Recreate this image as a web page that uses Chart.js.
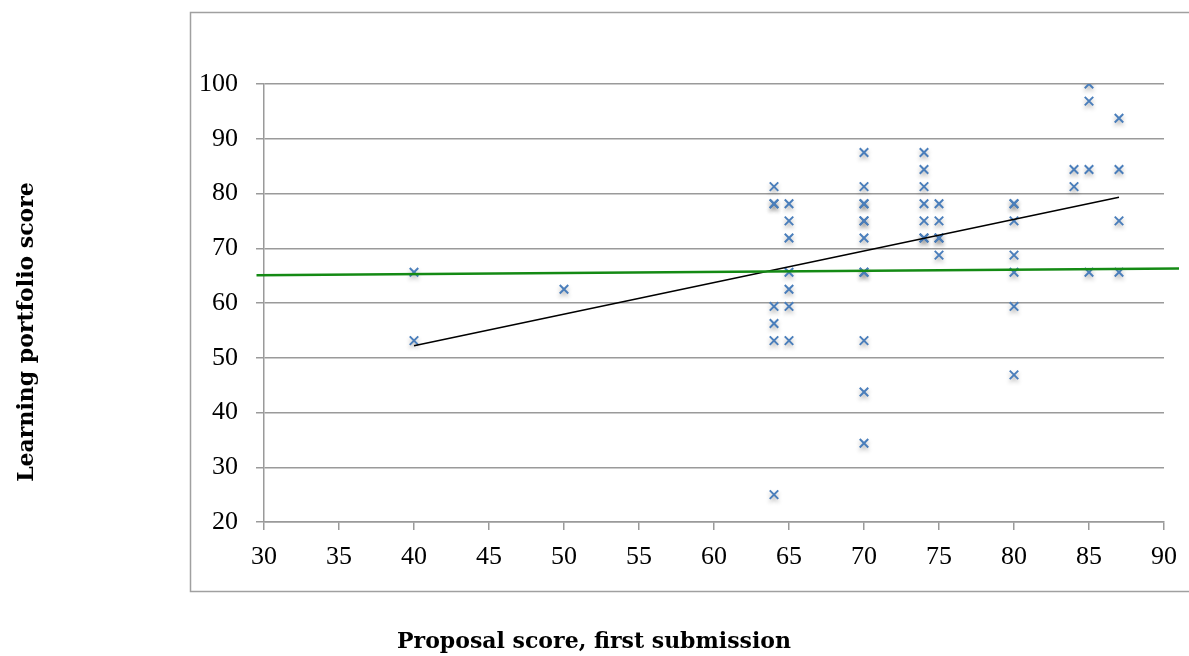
<!DOCTYPE html>
<html>
<head>
<meta charset="utf-8">
<title>Learning portfolio vs proposal score</title>
<script src="https://cdn.jsdelivr.net/npm/chart.js@4.4.1/dist/chart.umd.min.js"></script>
<style>
    html, body { margin: 0; padding: 0; background: #ffffff; }
    #wrap { position: relative; width: 1189px; height: 656px; }
</style>
</head>
<body>
<div id="wrap">
    <canvas id="scoreChart" width="1189" height="656"></canvas>
</div>
<script>
// Proposal score (first submission) for each student
const proposalScores = [
    40, 40,
    50,
    64, 64, 64, 64, 64, 64, 64,
    65, 65, 65, 65, 65, 65, 65,
    70, 70, 70, 70, 70, 70, 70, 70, 70, 70, 70, 70,
    74, 74, 74, 74, 74, 74, 74,
    75, 75, 75, 75, 75,
    80, 80, 80, 80, 80, 80, 80,
    84, 84,
    85, 85, 85, 85,
    87, 87, 87, 87
];

// Learning portfolio score, same order
const portfolioScores = [
    65.625, 53.125,
    62.5,
    81.25, 78.125, 78.125, 59.375, 56.25, 53.125, 25,
    78.125, 75, 71.875, 65.625, 62.5, 59.375, 53.125,
    87.5, 81.25, 78.125, 78.125, 75, 75, 71.875, 65.625, 65.625, 53.125, 43.75, 34.375,
    87.5, 84.375, 81.25, 78.125, 75, 71.875, 71.875,
    78.125, 75, 71.875, 71.875, 68.75,
    78.125, 78.125, 75, 68.75, 65.625, 59.375, 46.875,
    84.375, 81.25,
    100, 96.875, 84.375, 65.625,
    93.75, 84.375, 75, 65.625
];

// Linear trendline end points (black)
const trendX = [40, 87];
const trendY = [52.2, 79.3];

// Reference line drawn across the chart (green)
const refX = [29.5, 91.0];
const refY = [65.05, 66.3];

// Axis ticks
const xTicks = [30, 35, 40, 45, 50, 55, 60, 65, 70, 75, 80, 85, 90];
const yTicks = [20, 30, 40, 50, 60, 70, 80, 90, 100];

const xTitle = 'Proposal score, first submission';
const yTitle = 'Learning portfolio score';

const gridGray = '#9a9a9a';
const markBlue = '#4a7ebb';

document.addEventListener('DOMContentLoaded', () => {
    initScoreChart();
});

/**
 * Outer frame + axis titles (drawn straight on the canvas)
 */
const framePlugin = {
    id: 'frame',
    beforeDraw(chart) {
        const ctx = chart.ctx;
        ctx.save();
        ctx.strokeStyle = '#a0a0a0';
        ctx.lineWidth = 1.5;
        ctx.strokeRect(190.5, 12.5, 1010, 579);
        ctx.restore();
    },
    afterDraw(chart) {
        const ctx = chart.ctx;
        ctx.save();
        ctx.fillStyle = '#000000';
        ctx.font = 'bold 22px "DejaVu Serif"';
        ctx.textAlign = 'center';
        ctx.textBaseline = 'alphabetic';
        ctx.fillText(xTitle, 594, 648);

        ctx.translate(33, 332);
        ctx.rotate(-Math.PI / 2);
        ctx.fillText(yTitle, 0, 0);
        ctx.restore();
    }
};

/**
 * Soft drop shadow under the scatter marks
 */
const shadowPlugin = {
    id: 'markShadow',
    beforeDatasetDraw(chart, args) {
        if (args.meta.type !== 'scatter') return;
        const ctx = chart.ctx;
        ctx.save();
        ctx.shadowColor = 'rgba(0, 0, 0, 0.3)';
        ctx.shadowBlur = 4;
        ctx.shadowOffsetY = 3;
    },
    afterDatasetDraw(chart, args) {
        if (args.meta.type !== 'scatter') return;
        chart.ctx.restore();
    }
};

function initScoreChart() {
    const ctx = document.getElementById('scoreChart');
    if (!ctx) return;

    const points = proposalScores.map((x, i) => ({ x: x, y: portfolioScores[i] }));
    const trend = trendX.map((x, i) => ({ x: x, y: trendY[i] }));
    const refLine = refX.map((x, i) => ({ x: x, y: refY[i] }));

    const data = {
        datasets: [
            {
                type: 'line',
                label: 'Reference',
                data: refLine,
                borderColor: '#148a14',
                borderWidth: 2.5,
                pointRadius: 0,
                fill: false,
                clip: false,
                order: 0
            },
            {
                type: 'line',
                label: 'Trend',
                data: trend,
                borderColor: '#000000',
                borderWidth: 1.5,
                pointRadius: 0,
                fill: false,
                clip: false,
                order: 1
            },
            {
                type: 'scatter',
                label: 'Students',
                data: points,
                pointStyle: 'crossRot',
                pointRadius: 6,
                pointBorderWidth: 2,
                borderColor: markBlue,
                backgroundColor: markBlue,
                order: 2
            }
        ]
    };

    new Chart(ctx, {
        type: 'scatter',
        data: data,
        plugins: [framePlugin, shadowPlugin],
        options: {
            responsive: false,
            animation: false,
            devicePixelRatio: 1,
            layout: { padding: { left: 0, top: 84, right: 25, bottom: 0 } },
            plugins: {
                legend: { display: false },
                tooltip: { enabled: false }
            },
            scales: {
                x: {
                    type: 'linear',
                    min: 30,
                    max: 90,
                    afterBuildTicks: (scale) => { scale.ticks = xTicks.map(v => ({ value: v })); },
                    afterFit: (scale) => { scale.height = 134; },
                    grid: {
                        drawOnChartArea: false,
                        drawTicks: true,
                        tickLength: 8,
                        color: gridGray,
                        lineWidth: 1.5
                    },
                    border: { display: true, color: gridGray, width: 1.5 },
                    ticks: {
                        color: '#000000',
                        padding: 12,
                        maxRotation: 0,
                        font: { family: 'Liberation Serif', size: 26 }
                    }
                },
                y: {
                    type: 'linear',
                    min: 20,
                    max: 100,
                    afterBuildTicks: (scale) => { scale.ticks = yTicks.map(v => ({ value: v })); },
                    afterFit: (scale) => { scale.width = 264; },
                    grid: {
                        drawTicks: true,
                        tickLength: 8,
                        color: gridGray,
                        lineWidth: 1.5
                    },
                    border: { display: true, color: gridGray, width: 1.5 },
                    ticks: {
                        color: '#000000',
                        padding: 18,
                        font: { family: 'Liberation Serif', size: 26 }
                    }
                }
            }
        }
    });
}
</script>
</body>
</html>
